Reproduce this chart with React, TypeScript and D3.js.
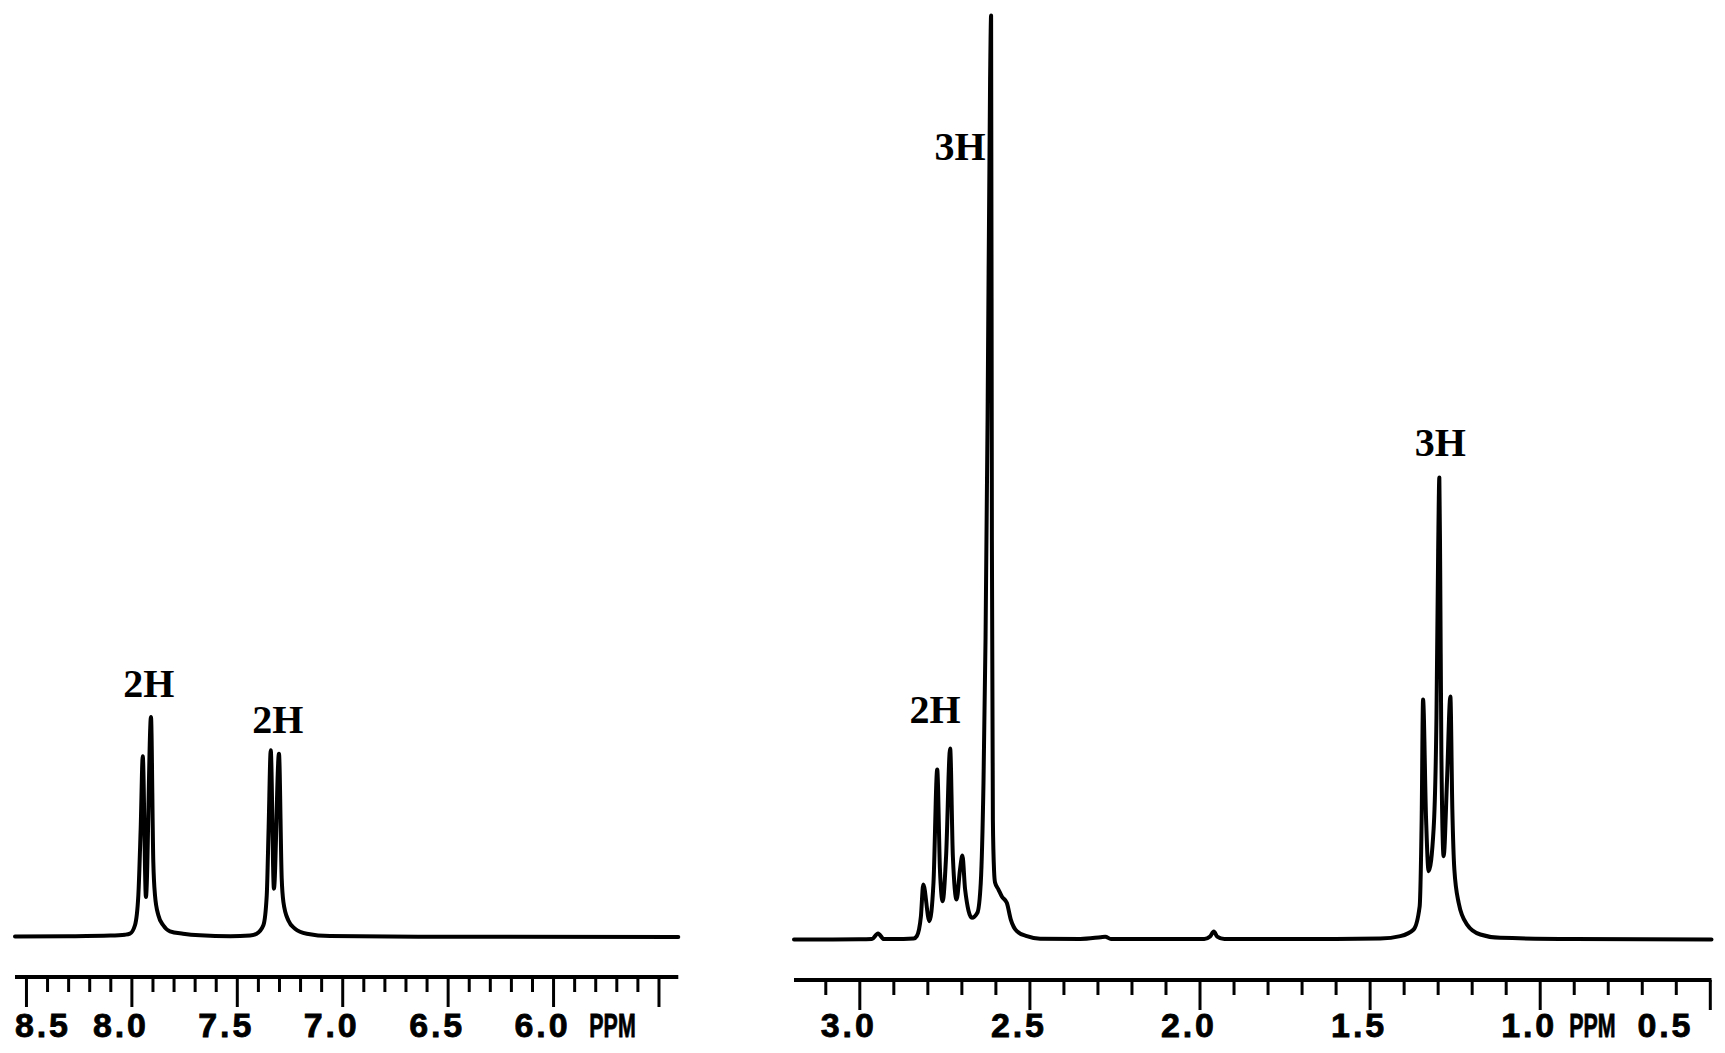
import React, { useRef, useEffect } from "react";
import * as d3 from "d3";

// 1H NMR trace: [ppm, relative intensity] (tallest singlet = 100)
const aromaticTrace: [number, number][] = [
  [8.552, 0.05], [8.3, 0.08], [8.1, 0.15], [8.03, 0.25], [8.007, 0.36],
  [7.983, 1.27], [7.967, 4.51], [7.956, 11.69], [7.946, 19.56], [7.931, 4.33],
  [7.907, 23.81], [7.896, 8.12], [7.888, 4.51], [7.872, 2.35], [7.849, 1.27],
  [7.817, 0.62], [7.755, 0.36], [7.675, 0.18], [7.53, 0.08], [7.437, 0.16],
  [7.406, 0.36], [7.374, 1.27], [7.358, 4.51], [7.349, 11.9], [7.339, 20.21],
  [7.324, 5.23], [7.3, 19.84], [7.287, 6.31], [7.279, 3.79], [7.256, 1.81],
  [7.224, 0.9], [7.168, 0.36], [7.058, 0.11], [6.49, 0.03], [5.406, 0.0],
];

const aliphaticTrace: [number, number][] = [
  [3.192, 0.0], [3.0, 0.02], [2.963, 0.05], [2.945, 0.65], [2.928, 0.05],
  [2.87, 0.05], [2.84, 0.1], [2.831, 0.36], [2.819, 2.49], [2.812, 5.95],
  [2.794, 1.98], [2.782, 6.14], [2.771, 18.4], [2.763, 7.58], [2.755, 4.15],
  [2.745, 8.98], [2.733, 20.67], [2.725, 8.98], [2.714, 4.33], [2.704, 7.58],
  [2.697, 9.09], [2.689, 5.41], [2.669, 2.35], [2.653, 2.89], [2.643, 6.14],
  [2.635, 16.96], [2.629, 32.5], [2.623, 56.3], [2.6156, 93.1], [2.6126, 100],
  [2.6103, 43.3], [2.6074, 13.0], [2.6038, 7.36], [2.601, 6.17], [2.591, 5.41],
  [2.581, 4.65], [2.5665, 3.97], [2.5547, 2.16], [2.537, 0.9], [2.5076, 0.36],
  [2.4685, 0.08], [2.35, 0.05], [2.29, 0.25], [2.277, 0.3], [2.26, 0.05],
  [2.0, 0.05], [1.986, 0.05], [1.969, 0.32], [1.958, 0.87], [1.948, 0.32],
  [1.927, 0.05], [1.6, 0.05], [1.4685, 0.1], [1.4097, 0.36], [1.3706, 1.08],
  [1.3529, 3.57], [1.347, 13.0], [1.3429, 25.97], [1.334, 13.0], [1.3265, 7.39],
  [1.3118, 12.0], [1.3035, 24.0], [1.2985, 42.0], [1.295, 50.0], [1.2925, 40.0],
  [1.289, 20.0], [1.2824, 9.02], [1.2724, 17.3], [1.2626, 26.3], [1.2568, 14.07],
  [1.2509, 7.58], [1.2382, 3.97], [1.2135, 1.62], [1.1744, 0.54], [1.1156, 0.18],
  [0.9, 0.05], [0.495, 0.0],
];

// axis ranges (ppm) and labelled major ticks
const aromaticRange = [8.552, 5.406];
const aliphaticRange = [3.192, 0.495];
const aromaticLabels = ["8.5", "8.0", "7.5", "7.0", "6.5", "6.0"];
const aliphaticLabels = ["3.0", "2.5", "2.0", "1.5", "1.0", "0.5"];

// integration annotations: [text, ppm, intensity of text baseline]
const aromaticNotes: [string, number, number][] = [
  ["2H", 7.917, 25.97],
  ["2H", 7.305, 22.08],
];
const aliphaticNotes: [string, number, number][] = [
  ["2H", 2.777, 23.43],
  ["3H", 2.704, 84.36],
  ["3H", 1.292, 52.33],
];

const W = 1725;
const H = 1053;

const App = () => {
  const svgRef = useRef<SVGSVGElement>(null);

  useEffect(() => {
    const svg = d3
      .select(svgRef.current)
      .attr("width", W)
      .attr("height", H)
      .style("background", "#fff");

    svg.selectAll("*").remove();

    const panels = [
      {
        trace: aromaticTrace,
        range: aromaticRange,
        px: [15, 678.3],
        base: 937,
        axisY: 977,
        labels: aromaticLabels,
        ticksFrom: 8.5,
        ticksTo: 5.5,
        ppmAt: 5.718,
        notes: aromaticNotes,
      },
      {
        trace: aliphaticTrace,
        range: aliphaticRange,
        px: [794, 1711.5],
        base: 939.5,
        axisY: 980,
        labels: aliphaticLabels,
        ticksFrom: 3.1,
        ticksTo: 0.5,
        ppmAt: 0.845,
        notes: aliphaticNotes,
      },
    ];

    panels.forEach((p) => {
      const x = d3.scaleLinear().domain(p.range).range(p.px);
      const y = d3.scaleLinear().domain([0, 100]).range([p.base, p.base - 924]);

      const line = d3
        .line<[number, number]>()
        .x((d) => x(d[0]))
        .y((d) => y(d[1]))
        .curve(d3.curveMonotoneX);

      svg
        .append("path")
        .datum(p.trace)
        .attr("d", line)
        .attr("fill", "none")
        .attr("stroke", "#000")
        .attr("stroke-width", 4)
        .attr("stroke-linejoin", "round")
        .attr("stroke-linecap", "round");

      // axis line
      svg
        .append("line")
        .attr("x1", p.px[0])
        .attr("x2", p.px[1])
        .attr("y1", p.axisY)
        .attr("y2", p.axisY)
        .attr("stroke", "#000")
        .attr("stroke-width", 4);

      // ticks every 0.1 ppm, long ones every 0.5
      const n = Math.round((p.ticksFrom - p.ticksTo) * 10);
      const tickVals = d3.range(n + 1).map((i) => +(p.ticksFrom - i * 0.1).toFixed(1));
      const major = tickVals.filter((v) => Math.abs(v * 2 - Math.round(v * 2)) < 1e-6);
      const minor = tickVals.filter((v) => !major.includes(v));

      const axisMinor = d3.axisBottom(x).tickValues(minor).tickSize(15).tickFormat(() => "");
      const axisMajor = d3.axisBottom(x).tickValues(major).tickSize(30).tickFormat(() => "");
      [axisMinor, axisMajor].forEach((ax) => {
        const g = svg.append("g").attr("transform", `translate(0,${p.axisY})`).call(ax);
        g.select(".domain").remove();
        g.selectAll(".tick line").attr("stroke", "#000").attr("stroke-width", 3);
      });

      // tick labels (shifted left of the tick, kept inside the axis)
      const lw = 53;
      p.labels.forEach((lab) => {
        const cx = Math.max(
          p.px[0] + lw / 2,
          Math.min(p.px[1] - 21 - lw / 2, x(+lab) - 12)
        );
        svg
          .append("text")
          .attr("x", cx)
          .attr("y", 1037)
          .attr("text-anchor", "middle")
          .attr("font-family", "Liberation Sans, Arial, sans-serif")
          .attr("font-weight", "bold")
          .attr("font-size", 34)
          .attr("stroke", "#000")
          .attr("stroke-width", 0.8)
          .attr("textLength", lw)
          .attr("lengthAdjust", "spacing")
          .text(lab);
      });

      // squeezed "PPM" unit label
      svg
        .append("text")
        .attr("transform", `translate(${x(p.ppmAt)},1037) scale(0.63,1)`)
        .attr("text-anchor", "middle")
        .attr("font-family", "Liberation Sans, Arial, sans-serif")
        .attr("font-weight", "bold")
        .attr("font-size", 34)
        .attr("stroke", "#000")
        .attr("stroke-width", 0.8)
        .text("PPM");

      p.notes.forEach(([t, ppm, v]) => {
        svg
          .append("text")
          .attr("x", x(ppm))
          .attr("y", y(v))
          .attr("text-anchor", "middle")
          .attr("font-family", "Liberation Serif, Times New Roman, serif")
          .attr("font-weight", "bold")
          .attr("font-size", 40)
          .text(t);
      });
    });
  }, []);

  return (
    <div style={{ position: "absolute", left: 0, top: 0 }}>
      <svg ref={svgRef} style={{ display: "block" }}></svg>
    </div>
  );
};

export default App;
